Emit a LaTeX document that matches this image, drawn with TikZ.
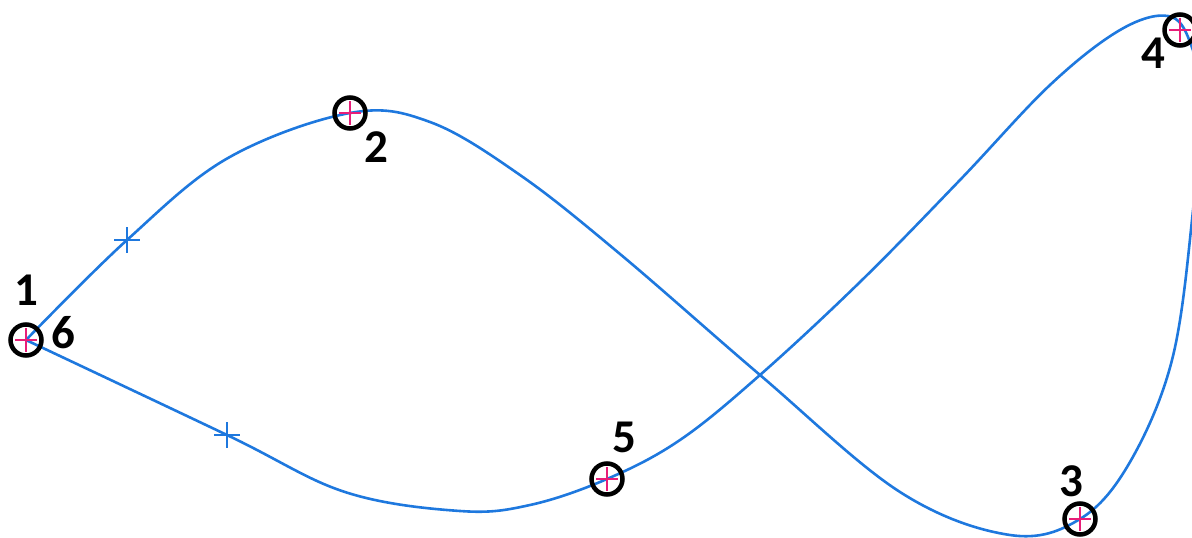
\documentclass[tikz,border=0pt]{standalone}
\usepackage{fontspec}
\setmainfont{Carlito}
\begin{document}
\begin{tikzpicture}[x=1pt,y=-1pt,
  curve/.style={draw=curveblue,line width=2.6pt},
  ring/.style={circle,draw=black,line width=4.5pt,minimum size=31pt,inner sep=0pt},
  lbl/.style={font=\fontsize{47}{47}\selectfont\bfseries,inner sep=0pt}]
\definecolor{curveblue}{RGB}{30,120,222}
\definecolor{pinkx}{RGB}{232,30,120}
\useasboundingbox (0,0) rectangle (1192,538);
\begin{scope}
\clip (0,0) rectangle (1192,538);
\draw[curve,line join=miter] plot[smooth,tension=0.6] coordinates {
 (26,340) (127,240) (228,158) (350,113) (430,122) (520,175) (620,254) (760,375)
 (900,492) (1010,535) (1080,519) (1130,462) (1172,360) (1192,220)
 (1200,100) (1190,42) (1168,16) (1120,30) (1050,85) (960,180) (860,282) (760,375)
 (680,440) (607,479) (530,505) (460,511) (345,492) (227,435) (26,340) };
\end{scope}
% blue tick marks
\foreach \p in {(127,240),(227,435)}{
  \draw[curveblue,line width=1.8pt] \p ++(-13,0) -- ++(26,0);
  \draw[curveblue,line width=1.8pt] \p ++(0,-13) -- ++(0,26);
}
% points
\foreach \n/\x/\y in {p1/26/340,p2/350/113,p3/1080/519,p4/1180/30,p5/607/479}{
  \draw[pinkx,line width=2pt] (\x-11,\y) -- (\x+11,\y) (\x,\y-12) -- (\x,\y+12);
  \node[ring] (\n) at (\x,\y) {};
}
\node[lbl] (l1) at (26,290) {1};
\node[lbl] (l6) at (63,333) {6};
\node[lbl] (l2) at (376,147) {2};
\node[lbl] (l4) at (1153,53) {4};
\node[lbl] (l5) at (624,437) {5};
\node[lbl] (l3) at (1071,481) {3};
\end{tikzpicture}
\end{document}
